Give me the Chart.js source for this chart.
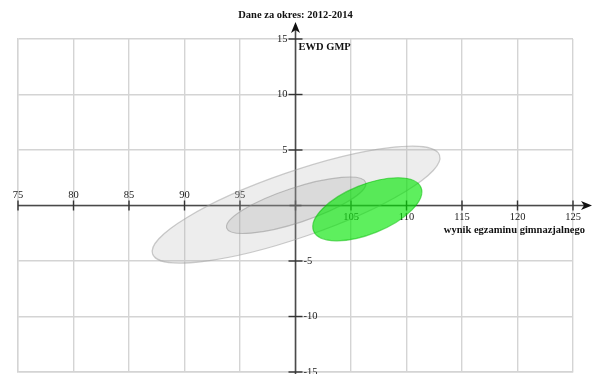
<!DOCTYPE html>
<html>
<head>
<meta charset="utf-8">
<script src="https://cdn.jsdelivr.net/npm/chart.js@4/dist/chart.umd.min.js"></script>
<style>
  html, body { margin: 0; padding: 0; background: #fff; }
  #wrap { width: 593px; height: 374px; position: relative; }
</style>
</head>
<body>
<div id="wrap"><canvas id="c" width="593" height="374"></canvas></div>
<script>
// ---- data ----
const chartTitle = 'Dane za okres: 2012-2014';
const yAxisTitle = 'EWD GMP';
const xAxisTitle = 'wynik egzaminu gimnazjalnego';
const xMin = 75, xMax = 125, xOrigin = 100;
const yMin = -15, yMax = 15, yOrigin = 0;
const xTickLabels = [75, 80, 85, 90, 95, 105, 110, 115, 120, 125];
const yTickLabels = [15, 10, 5, -5, -10, -15];
// ellipses (data units): centre, semi-axes, rotation in degrees
const ellipseNames = ['zakres szeroki', 'zakres wąski', 'szkoła'];
const ellipseCenterX = [100.05, 100.06, 106.47];
const ellipseCenterY = [0.08, 0.02, -0.34];
const ellipseSemiMajor = [13.67, 6.59, 5.22];
const ellipseSemiMinor = [2.97, 1.57, 2.22];
const ellipseAngleDeg = [19, 18.2, 22];
const ellipseFill = ['rgba(175,175,175,0.22)', 'rgba(150,150,150,0.22)', 'rgba(0,230,0,0.63)'];
const ellipseStroke = ['rgba(160,160,160,0.55)', 'rgba(140,140,140,0.5)', 'rgba(0,190,0,0.55)'];

const SERIF = '"Liberation Serif", "Times New Roman", serif';
const AXIS_COLOR = '#4a4a4a';
const LABEL_COLOR = '#222';

const axesPlugin = {
  id: 'customAxes',
  beforeDatasetsDraw(chart) {
    const ctx = chart.ctx;
    const xs = chart.scales.x, ys = chart.scales.y;
    const ox = xs.getPixelForValue(xOrigin);
    const oy = ys.getPixelForValue(yOrigin);
    const area = chart.chartArea;
    ctx.save();
    ctx.strokeStyle = AXIS_COLOR;
    ctx.fillStyle = AXIS_COLOR;
    ctx.lineWidth = 1.6;
    // x axis
    const xEnd = chart.width - 1;
    ctx.beginPath();
    ctx.moveTo(area.left, oy);
    ctx.lineTo(xEnd - 4, oy);
    ctx.stroke();
    ctx.fillStyle = '#111';
    ctx.beginPath();
    ctx.moveTo(xEnd, oy);
    ctx.lineTo(xEnd - 11, oy - 4.5);
    ctx.lineTo(xEnd - 8, oy);
    ctx.lineTo(xEnd - 11, oy + 4.5);
    ctx.closePath();
    ctx.fill();
    // y axis
    const yTop = 22;
    ctx.beginPath();
    ctx.moveTo(ox, chart.height);
    ctx.lineTo(ox, yTop + 4);
    ctx.stroke();
    ctx.beginPath();
    ctx.moveTo(ox, yTop);
    ctx.lineTo(ox - 4.5, yTop + 11);
    ctx.lineTo(ox, yTop + 8);
    ctx.lineTo(ox + 4.5, yTop + 11);
    ctx.closePath();
    ctx.fill();
    // ticks
    ctx.lineWidth = 1.4;
    ctx.strokeStyle = '#333';
    ctx.font = '10.5px ' + SERIF;
    ctx.fillStyle = LABEL_COLOR;
    xTickLabels.forEach(v => {
      const px = xs.getPixelForValue(v);
      ctx.beginPath();
      ctx.moveTo(px, oy - 5);
      ctx.lineTo(px, oy + 5);
      ctx.stroke();
      ctx.textAlign = 'center';
      if (v < xOrigin) {
        ctx.textBaseline = 'alphabetic';
        ctx.fillText(String(v), px, oy - 7.5);
      } else {
        ctx.textBaseline = 'top';
        ctx.fillText(String(v), px, oy + 6.5);
      }
    });
    // origin mark
    ctx.beginPath();
    ctx.moveTo(ox - 6, oy); ctx.lineTo(ox + 6, oy);
    ctx.moveTo(ox, oy - 5); ctx.lineTo(ox, oy + 5);
    ctx.stroke();
    yTickLabels.forEach(v => {
      const py = ys.getPixelForValue(v);
      ctx.beginPath();
      ctx.moveTo(ox - 7, py);
      ctx.lineTo(ox + 7, py);
      ctx.stroke();
      ctx.textBaseline = 'middle';
      if (v > yOrigin) {
        ctx.textAlign = 'right';
        ctx.fillText(String(v), ox - 8, py);
      } else {
        ctx.textAlign = 'left';
        ctx.fillText(String(v), ox + 8, py);
      }
    });
    // titles
    ctx.fillStyle = '#111';
    ctx.font = 'bold 10.5px ' + SERIF;
    ctx.textAlign = 'center';
    ctx.textBaseline = 'alphabetic';
    ctx.fillText(chartTitle, ox, 17.5);
    ctx.textAlign = 'left';
    ctx.textBaseline = 'middle';
    ctx.fillText(yAxisTitle, ox + 3, ys.getPixelForValue(yMax) + 8);
    ctx.textAlign = 'right';
    ctx.fillText(xAxisTitle, chart.width - 8, oy + 24.5);
    ctx.restore();
  },
  afterDatasetsDraw(chart) {
    const ctx = chart.ctx;
    const xs = chart.scales.x, ys = chart.scales.y;
    const kx = Math.abs(xs.getPixelForValue(1) - xs.getPixelForValue(0));
    const ky = Math.abs(ys.getPixelForValue(1) - ys.getPixelForValue(0));
    ellipseNames.forEach((name, i) => {
      const cx = xs.getPixelForValue(ellipseCenterX[i]);
      const cy = ys.getPixelForValue(ellipseCenterY[i]);
      ctx.save();
      ctx.beginPath();
      ctx.save();
      ctx.translate(cx, cy);
      ctx.scale(kx, -ky);
      ctx.rotate(ellipseAngleDeg[i] * Math.PI / 180);
      ctx.ellipse(0, 0, ellipseSemiMajor[i], ellipseSemiMinor[i], 0, 0, Math.PI * 2);
      ctx.restore();
      ctx.fillStyle = ellipseFill[i];
      ctx.fill();
      ctx.strokeStyle = ellipseStroke[i];
      ctx.lineWidth = 1.2;
      ctx.stroke();
      ctx.restore();
    });
  }
};

new Chart(document.getElementById('c'), {
  type: 'scatter',
  data: { datasets: [] },
  options: {
    responsive: false,
    animation: false,
    devicePixelRatio: 1,
    layout: { padding: { left: 18, right: 20, top: 39, bottom: 2 } },
    plugins: { legend: { display: false }, tooltip: { enabled: false }, title: { display: false } },
    scales: {
      x: {
        type: 'linear', min: xMin, max: xMax,
        ticks: { display: false, stepSize: 5 },
        grid: { color: '#d4d4d4', lineWidth: 1.4, drawTicks: false },
        border: { display: true, color: '#d4d4d4', width: 1.4 }
      },
      y: {
        type: 'linear', min: yMin, max: yMax,
        ticks: { display: false, stepSize: 5 },
        grid: { color: '#d4d4d4', lineWidth: 1.4, drawTicks: false },
        border: { display: true, color: '#d4d4d4', width: 1.4 }
      }
    }
  },
  plugins: [axesPlugin]
});
</script>
</body>
</html>
